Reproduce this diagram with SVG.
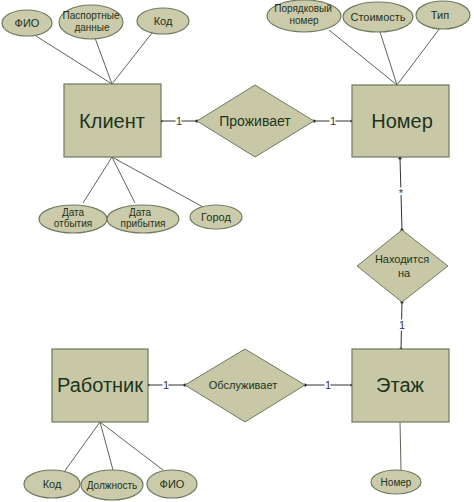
<svg xmlns="http://www.w3.org/2000/svg" width="474" height="502" viewBox="0 0 474 502">
<style>
.ent{fill:#c8c8a6;stroke:#6e7a60;stroke-width:1.2}
.rel{fill:#c8c8a6;stroke:#6e7a60;stroke-width:1}
.att{fill:#cbcbab;stroke:#6e7a60;stroke-width:1.2}
.big{font-family:"Liberation Sans",Arial,sans-serif;font-size:20px;fill:#1c3320;text-anchor:middle}
.mid{font-family:"Liberation Sans",Arial,sans-serif;font-size:14px;fill:#1c3320;text-anchor:middle}
.sm{font-family:"Liberation Sans",Arial,sans-serif;font-size:11px;fill:#1c3320;text-anchor:middle}
.xs{font-family:"Liberation Sans",Arial,sans-serif;font-size:10px;fill:#1c3320;text-anchor:middle}
.ln{stroke:#5a6655;stroke-width:1;fill:none}
.cn{stroke:#333;stroke-width:1;fill:none;marker-start:url(#dot);marker-end:url(#dot)}
.lb{font-family:"Liberation Sans",Arial,sans-serif;font-size:11px;fill:#333;text-anchor:middle;stroke:#fff;stroke-width:3;paint-order:stroke}
</style>
<defs>
<marker id="dot" markerWidth="4" markerHeight="4" refX="2" refY="2" markerUnits="userSpaceOnUse">
<circle cx="2" cy="2" r="1.6" fill="#222"/>
</marker>
</defs>
<rect width="474" height="502" fill="#fff"/>

<g id="connectors">
<line class="ln" x1="36" y1="36" x2="112" y2="84"/>
<line class="ln" x1="95" y1="38" x2="112" y2="84"/>
<line class="ln" x1="152" y1="33" x2="112" y2="84"/>
<line class="ln" x1="83" y1="203" x2="112" y2="157"/>
<line class="ln" x1="135" y1="203" x2="112" y2="157"/>
<line class="ln" x1="203" y1="207" x2="112" y2="157"/>
<line class="ln" x1="329" y1="30" x2="397" y2="85"/>
<line class="ln" x1="380" y1="32" x2="397" y2="85"/>
<line class="ln" x1="440" y1="28" x2="397" y2="85"/>
<line class="ln" x1="400" y1="422" x2="401" y2="470"/>
<line class="ln" x1="64" y1="472" x2="100" y2="422"/>
<line class="ln" x1="113" y1="470" x2="100" y2="422"/>
<line class="ln" x1="163" y1="470" x2="100" y2="422"/>

<line class="cn" x1="161" y1="121" x2="197" y2="121"/>
<text class="lb" x="179" y="125">1</text>
<line class="cn" x1="314" y1="121" x2="352" y2="121"/>
<text class="lb" x="333" y="125">1</text>
<line class="cn" x1="400" y1="158" x2="402" y2="230"/>
<text class="lb" x="401" y="197">*</text>
<line class="cn" x1="402" y1="302" x2="401" y2="349"/>
<text class="lb" x="402" y="329">1</text>
<line class="cn" x1="148" y1="385" x2="185" y2="385"/>
<text class="lb" x="166" y="389">1</text>
<line class="cn" x1="305" y1="385" x2="352" y2="385"/>
<text class="lb" x="328" y="389">1</text>
</g>

<g id="client">
<rect class="ent" x="64" y="84" width="97" height="73"/>
<text class="big" x="112" y="128">Клиент</text>
</g>
<g id="room">
<rect class="ent" x="352" y="85" width="97" height="72"/>
<text class="big" x="402" y="128">Номер</text>
</g>
<g id="floor">
<rect class="ent" x="352" y="349" width="97" height="73"/>
<text class="big" x="400" y="392">Этаж</text>
</g>
<g id="worker">
<rect class="ent" x="52" y="349" width="96" height="73"/>
<text class="big" x="100" y="392">Работник</text>
</g>

<g id="lives">
<polygon class="rel" points="197,121 255,85 314,121 255,157"/>
<text class="mid" x="255" y="126">Проживает</text>
</g>
<g id="located">
<polygon class="rel" points="357,266 402,230 448,266 402,302"/>
<text class="sm" x="402" y="263">Находится</text>
<text class="sm" x="404" y="277">на</text>
</g>
<g id="serves">
<polygon class="rel" points="185,385 245,349 305,385 245,422"/>
<text class="sm" x="243" y="389">Обслуживает</text>
</g>

<g id="a-fio1">
<ellipse class="att" cx="27" cy="23" rx="25" ry="13"/>
<text class="sm" x="27" y="27">ФИО</text>
</g>
<g id="a-passport">
<ellipse class="att" cx="91" cy="22" rx="32" ry="17"/>
<text class="xs" x="91" y="19">Паспортные</text>
<text class="xs" x="92" y="31">данные</text>
</g>
<g id="a-code1">
<ellipse class="att" cx="163" cy="21" rx="26" ry="13"/>
<text class="sm" x="163" y="25">Код</text>
</g>
<g id="a-dep">
<ellipse class="att" cx="73" cy="219" rx="34" ry="14"/>
<text class="xs" x="73" y="216">Дата</text>
<text class="xs" x="73" y="227">отбытия</text>
</g>
<g id="a-arr">
<ellipse class="att" cx="143" cy="219" rx="36" ry="14"/>
<text class="xs" x="140" y="216">Дата</text>
<text class="xs" x="143" y="227">прибытия</text>
</g>
<g id="a-city">
<ellipse class="att" cx="216" cy="217" rx="26" ry="12"/>
<text class="sm" x="216" y="221">Город</text>
</g>
<g id="a-ordnum">
<ellipse class="att" cx="304" cy="16" rx="37" ry="16"/>
<text class="xs" x="303" y="12">Порядковый</text>
<text class="xs" x="304" y="24">номер</text>
</g>
<g id="a-cost">
<ellipse class="att" cx="378" cy="17" rx="35" ry="15"/>
<text class="sm" x="378" y="21">Стоимость</text>
</g>
<g id="a-type">
<ellipse class="att" cx="443" cy="15" rx="27" ry="14"/>
<text class="sm" x="440" y="19">Тип</text>
</g>
<g id="a-floornum">
<ellipse class="att" cx="396" cy="482" rx="25" ry="12"/>
<text class="xs" x="396" y="486">Номер</text>
</g>
<g id="a-code2">
<ellipse class="att" cx="52" cy="484" rx="28" ry="14"/>
<text class="sm" x="52" y="488">Код</text>
</g>
<g id="a-post">
<ellipse class="att" cx="112" cy="485" rx="31" ry="15"/>
<text class="xs" x="112" y="489">Должность</text>
</g>
<g id="a-fio2">
<ellipse class="att" cx="172" cy="484" rx="25" ry="14"/>
<text class="sm" x="172" y="488">ФИО</text>
</g>
</svg>
